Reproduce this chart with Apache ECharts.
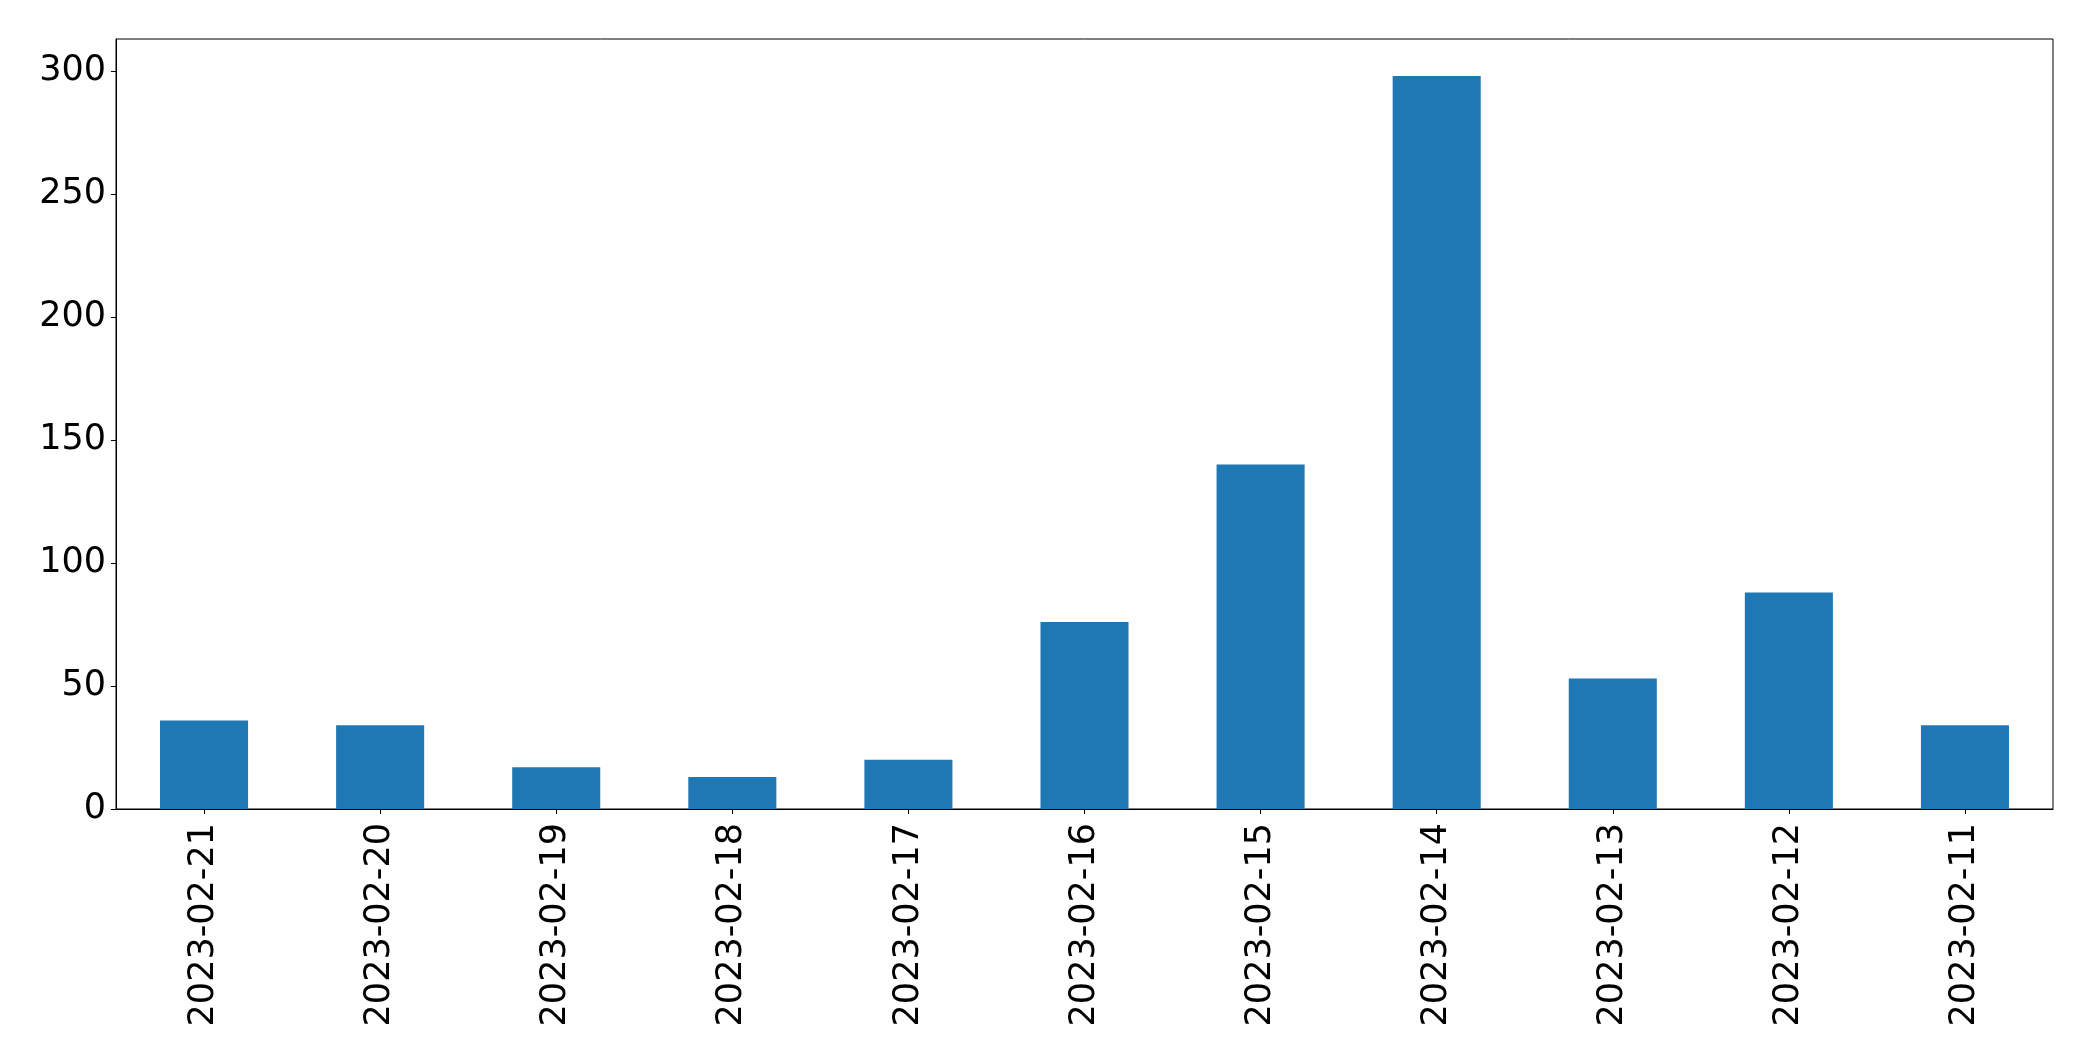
<!DOCTYPE html>
<html>
<head>
<meta charset="utf-8">
<script src="https://cdn.jsdelivr.net/npm/echarts@6/dist/echarts.min.js"></script>
<style>
html,body{margin:0;padding:0;background:#fff;}
#chart{width:2093px;height:1061px;}
</style>
</head>
<body>
<div id="chart"></div>
<script>
const categories = ['2023-02-21','2023-02-20','2023-02-19','2023-02-18','2023-02-17','2023-02-16','2023-02-15','2023-02-14','2023-02-13','2023-02-12','2023-02-11'];
const values = [36, 34, 17, 13, 20, 76, 140, 298, 53, 88, 34];
const yTicks = [0, 50, 100, 150, 200, 250, 300];

const font = 'DejaVu Sans';
const chart = echarts.init(document.getElementById('chart'), null, {renderer: 'canvas'});
chart.setOption({
  animation: false,
  backgroundColor: '#ffffff',
  grid: {
    left: 116, right: 40, top: 39, bottom: 252,
    show: true, borderColor: '#000000', borderWidth: 1,
    outerBoundsMode: 'none', containLabel: false
  },
  xAxis: {
    type: 'category',
    data: categories,
    axisLine: {show: true, lineStyle: {color: '#000000', width: 1}},
    axisTick: {show: true, alignWithLabel: true, length: 5, lineStyle: {color: '#000000', width: 1}},
    axisLabel: {rotate: 90, fontSize: 35, fontFamily: font, color: '#000000', margin: 14, interval: 0},
    splitLine: {show: false}
  },
  yAxis: {
    type: 'value',
    min: 0,
    max: 313,
    interval: 50,
    axisLine: {show: true, lineStyle: {color: '#000000', width: 1}},
    axisTick: {show: true, length: 5, customValues: yTicks, lineStyle: {color: '#000000', width: 1}},
    axisLabel: {fontSize: 35, fontFamily: font, color: '#000000', margin: 10, customValues: yTicks},
    splitLine: {show: false}
  },
  series: [{
    type: 'bar',
    data: values,
    barWidth: '50%',
    itemStyle: {color: '#1f77b4'}
  }]
});
</script>
</body>
</html>
